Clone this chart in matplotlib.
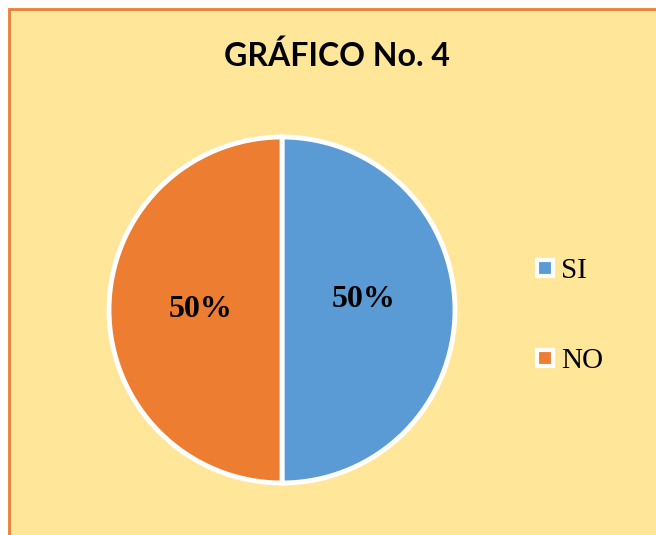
import matplotlib
matplotlib.use("Agg")
import matplotlib.pyplot as plt
from matplotlib.patches import Rectangle
from matplotlib.lines import Line2D

categorias = ["SI", "NO"]
valores = [50, 50]
colores = ["#5B9BD5", "#ED7D31"]
titulo = "GRÁFICO No. 4"

W, H = 656, 535
fig = plt.figure(figsize=(W / 100, H / 100), dpi=100)
fig.patch.set_facecolor("white")

# fondo del gráfico (recortado a la derecha y abajo)
fondo = Rectangle((9 / W, -0.05), 1.2, (H - 9) / H + 0.05, transform=fig.transFigure,
                  facecolor="#FFE699", edgecolor="#ED7D31", linewidth=2.0, zorder=-5)
fig.patches.append(fondo)

# ejes del pastel: centro (282, 310), radio 173 px
cx, cy, r = 282, 310, 173
lim = 1.1
half = r * lim
ax = fig.add_axes([(cx - half) / W, (H - cy - half) / H, 2 * half / W, 2 * half / H])
ax.set_zorder(2)
wedges, texts, autotexts = ax.pie(
    valores, colors=colores, startangle=90, counterclock=False,
    autopct="%1.0f%%", pctdistance=0.47,
    wedgeprops=dict(edgecolor="white", linewidth=3.5),
    textprops=dict(family="Liberation Serif", fontweight="bold", fontsize=23, color="black"),
)
# la etiqueta de SI está un poco más arriba en el original
x0, y0 = autotexts[0].get_position()
autotexts[0].set_position((x0, y0 + 0.06))
ax.set_xlim(-lim, lim)
ax.set_ylim(-lim, lim)
ax.set_aspect("equal")

fig.text(337 / W, 1 - 56 / H, titulo, ha="center", va="center",
         family="Lato", fontweight="bold", fontsize=23)

handles = [Line2D([], [], linestyle="none", marker="s", markersize=11.5,
                  markerfacecolor=c, markeredgecolor="white", markeredgewidth=3.0)
           for c in colores]
leg = fig.legend(handles, categorias, loc="center left", bbox_to_anchor=(516 / W, 1 - 316 / H),
                 frameon=False, prop=dict(family="Liberation Serif", size=21),
                 labelspacing=2.2, handlelength=1.0, handletextpad=0.05, borderpad=0)
leg.set_zorder(3)

fig.savefig("out.png", dpi=100)
